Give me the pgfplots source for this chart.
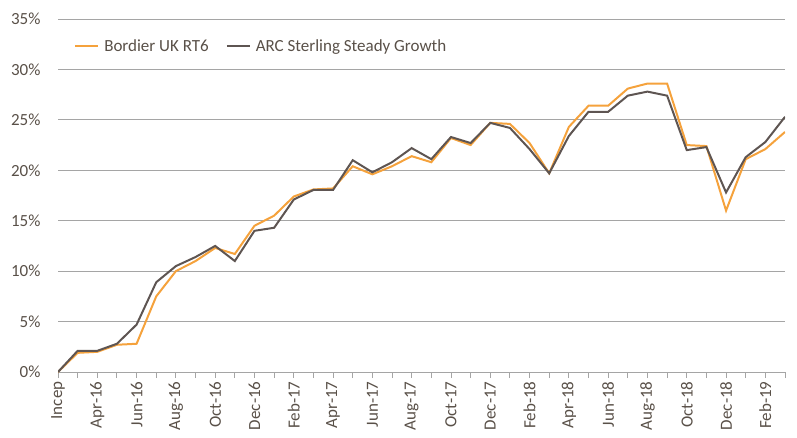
\documentclass[border=0pt]{standalone}
\usepackage{pgfplots}
\pgfplotsset{compat=1.18}
\usepackage{fontspec}
\setmainfont{Carlito}
\definecolor{orng}{RGB}{245,162,60}
\definecolor{drk}{RGB}{94,85,82}
\definecolor{txt}{RGB}{89,80,72}
\definecolor{grd}{RGB}{165,165,165}
\begin{document}
\begin{tikzpicture}
\begin{axis}[
  scale only axis,
  width=727bp, height=353bp,
  xmin=0, xmax=37, ymin=0, ymax=35,
  axis lines*=left,
  y axis line style={draw=none},
  x axis line style={draw=grd, line width=0.9pt},
  ytick={0,5,...,35},
  yticklabels={0\%,5\%,10\%,15\%,20\%,25\%,30\%,35\%},
  ytick style={draw=none},
  ymajorgrids,
  grid style={draw=grd, line width=0.9pt},
  xtick={0,...,37},
  xticklabels={Incep,,Apr-16,,Jun-16,,Aug-16,,Oct-16,,Dec-16,,Feb-17,,Apr-17,,Jun-17,,Aug-17,,Oct-17,,Dec-17,,Feb-18,,Apr-18,,Jun-18,,Aug-18,,Oct-18,,Dec-18,,Feb-19,},
  tick align=outside,
  xtick style={draw=grd, line width=0.9pt},
  major tick length=6bp,
  ticklabel style={font=\fontsize{17bp}{20bp}\selectfont, text=txt},
  yticklabel style={xshift=-8bp},
  xticklabel style={rotate=90, anchor=east, xshift=0bp},
  /pgf/number format/assume math mode=true,
  legend style={draw=none, fill=none, at={(0.018,0.954)}, anchor=north west,
    font=\fontsize{17bp}{20bp}\selectfont, text=txt, legend columns=2,
    /tikz/every even column/.append style={column sep=15bp}},
  legend image code/.code={\draw[#1, line width=2pt] (0bp,0bp) -- (23bp,0bp); \path (26bp,0bp);},
]
\addplot[orng, line width=2pt] coordinates {
(0,0) (1,1.9) (2,2.0) (3,2.7) (4,2.8) (5,7.5) (6,10.0) (7,11.0) (8,12.3) (9,11.7)
(10,14.5) (11,15.5) (12,17.4) (13,18.1) (14,18.2) (15,20.4) (16,19.6) (17,20.4) (18,21.4) (19,20.8)
(20,23.2) (21,22.5) (22,24.7) (23,24.6) (24,22.7) (25,19.7) (26,24.3) (27,26.4) (28,26.4) (29,28.1)
(30,28.6) (31,28.6) (32,22.5) (33,22.4) (34,16.0) (35,21.1) (36,22.1) (37,23.8)
};
\addlegendentry{Bordier UK RT6}
\addplot[drk, line width=2pt] coordinates {
(0,0) (1,2.1) (2,2.1) (3,2.8) (4,4.7) (5,8.9) (6,10.5) (7,11.4) (8,12.5) (9,11.0)
(10,14.0) (11,14.3) (12,17.1) (13,18.05) (14,18.05) (15,21.0) (16,19.8) (17,20.8) (18,22.2) (19,21.1)
(20,23.3) (21,22.7) (22,24.7) (23,24.2) (24,22.1) (25,19.7) (26,23.4) (27,25.8) (28,25.8) (29,27.4)
(30,27.8) (31,27.4) (32,22.0) (33,22.3) (34,17.8) (35,21.3) (36,22.8) (37,25.3)
};
\addlegendentry{ARC Sterling Steady Growth}
\end{axis}
\pgfresetboundingbox
\path ([xshift=-58bp,yshift=-66bp]current axis.south west) rectangle ([xshift=12bp,yshift=19bp]current axis.north east);
\end{tikzpicture}
\end{document}
